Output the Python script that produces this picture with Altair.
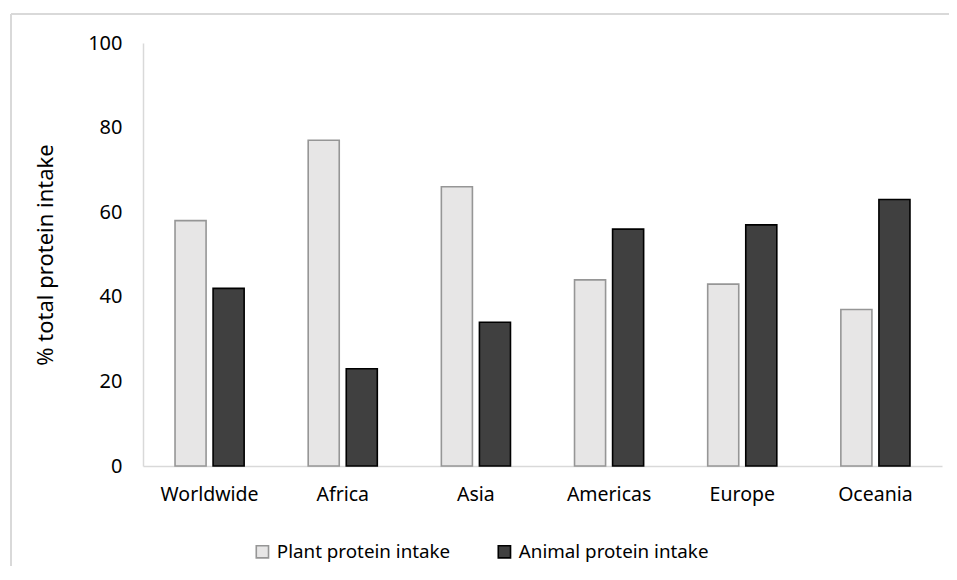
import altair as alt
import pandas as pd

regions = ["Worldwide", "Africa", "Asia", "Americas", "Europe", "Oceania"]
plant = [58, 77, 66, 44, 43, 37]
animal = [42, 23, 34, 56, 57, 63]
series = ["Plant protein intake", "Animal protein intake"]
fills = ["#e7e6e6", "#404040"]
strokes = ["#969696", "#000000"]

rows = []
for i, r in enumerate(regions):
    rows.append({"region": r, "series": series[0], "value": plant[i]})
    rows.append({"region": r, "series": series[1], "value": animal[i]})
df = pd.DataFrame(rows)

FONT = "Noto Sans"

bars = alt.Chart(df).mark_bar(strokeWidth=1.6).encode(
    x=alt.X("region:N", sort=regions, title=None,
            scale=alt.Scale(paddingInner=0.481, paddingOuter=0.2405),
            axis=alt.Axis(labelAngle=0, ticks=False, domainColor="#d9d9d9", domainWidth=1.5,
                          labelPadding=19, labelFontSize=19.5, labelColor="#000000", labelFont=FONT)),
    xOffset=alt.XOffset("series:N", sort=series,
                        scale=alt.Scale(paddingInner=0.184, paddingOuter=0)),
    y=alt.Y("value:Q", title="% total protein intake",
            scale=alt.Scale(domain=[0, 100], nice=False),
            axis=alt.Axis(values=[0, 20, 40, 60, 80, 100], ticks=False, grid=False,
                          domainColor="#d9d9d9", domainWidth=1.5, labelPadding=21,
                          labelFontSize=20, labelColor="#000000", labelFont=FONT,
                          titleFontSize=22, titleFontWeight="normal", titleColor="#000000",
                          titleFont=FONT, titlePadding=30)),
    color=alt.Color("series:N", sort=series, title=None,
                    scale=alt.Scale(domain=series, range=fills),
                    legend=alt.Legend(orient="none", legendX=110, legendY=499, direction="horizontal",
                                      symbolType="square", symbolSize=150, symbolStrokeWidth=1.6,
                                      labelFontSize=18.8, labelFont=FONT, labelColor="#000000",
                                      labelLimit=0, columnPadding=44, labelOffset=5)),
    stroke=alt.Stroke("series:N", sort=series, title=None,
                      scale=alt.Scale(domain=series, range=strokes)),
)

frame_df = pd.DataFrame({"a": [0]})
left_line = alt.Chart(frame_df).mark_rule(color="#d9d9d9", strokeWidth=2).encode(
    x=alt.value(-132), y=alt.value(-29), y2=alt.value(700))
top_line = alt.Chart(frame_df).mark_rule(color="#d9d9d9", strokeWidth=2).encode(
    x=alt.value(-132), x2=alt.value(900), y=alt.value(-29))

chart = alt.layer(bars, left_line, top_line).properties(
    width=799, height=423,
    autosize=alt.AutoSizeParams(type="none"),
    padding={"left": 135, "top": 35, "right": 7, "bottom": 100},
).configure(font=FONT).configure_view(stroke="transparent", strokeWidth=0)

chart.save("out.html", embed_options={"renderer": "svg", "actions": False})
